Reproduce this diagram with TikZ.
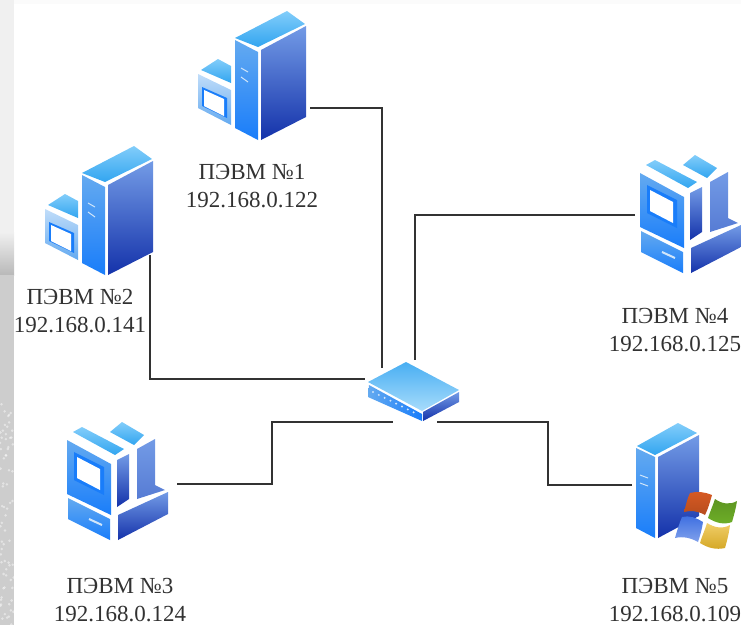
\documentclass[tikz,border=0pt]{standalone}
\usepackage{fontspec}
\setmainfont{Liberation Serif}
\definecolor{facelight}{RGB}{40, 160, 240}
\definecolor{topdark}{RGB}{50, 165, 240}
\definecolor{toplight}{RGB}{130, 205, 250}
\definecolor{sidetop}{RGB}{115, 155, 230}
\definecolor{sidebot}{RGB}{20, 50, 170}
\definecolor{frontlight}{RGB}{100, 170, 240}
\definecolor{frontdark}{RGB}{25, 125, 250}
\definecolor{wirecol}{RGB}{50, 50, 50}
\definecolor{stripcol}{RGB}{205, 205, 205}
\definecolor{flagred}{RGB}{215, 90, 35}
\definecolor{flaggreen}{RGB}{110, 175, 40}
\definecolor{flagblue}{RGB}{60, 110, 225}
\definecolor{flagyellow}{RGB}{235, 185, 40}
\tikzset{
  wire/.style={draw=wirecol,line width=1.8pt,line join=miter},
  iplabel/.style={align=center,text=wirecol,inner sep=0pt,font=\fontsize{23}{28}\selectfont},
  topface/.style={bottom color=topdark,top color=toplight},
  frontface/.style={top color=frontlight,bottom color=frontdark},
  sideface/.style={top color=sidetop,bottom color=sidebot},
  boxface/.style={top color=white!60!frontlight,bottom color=frontlight},
  screenrim/.style={fill=frontdark},
  screenglass/.style={fill=white},
  vent/.style={draw=white!70!frontlight,line width=1pt},
  % tower with a small box beside it
  towerpc/.pic={
    \shade[topface] (37,38)--(89,11)--(107,24)--(60,47)--cycle;
    \shade[frontface] (37,40)--(60,52)--(60,140)--(37,128)--cycle;
    \shade[sideface] (63,50)--(108,26)--(108,117)--(63,140)--cycle;
    \shade[topface] (3,70)--(20,59)--(33,66)--(33,83)--cycle;
    \shade[boxface] (0,74)--(33,90)--(33,125)--(0,108)--cycle;
    \fill[screenrim] (4,87)--(29,98)--(29,118)--(4,106)--cycle;
    \fill[screenglass] (6,90)--(26,99)--(26,116)--(6,106)--cycle;
    \draw[vent] (43,68)--(50,72);
    \draw[vent] (43,77)--(50,82);
  },
  % desktop with the monitor built in
  desktoppc/.pic={
    \shade[topface] (46,25)--(55,20)--(97,42)--(88,48)--cycle;
    \shade[topface] (83,25)--(95,15)--(117,28)--(107,38)--cycle;
    \shade[frontface] (40,33)--(84,57)--(84,108)--(40,87)--cycle;
    \shade[frontface] (41,91)--(83,112)--(83,133)--(41,112)--cycle;
    \fill[screenrim] (47,45)--(77,60)--(77,88)--(47,73)--cycle;
    \fill[screenglass] (50,50)--(73,62)--(73,83)--(50,71)--cycle;
    \draw[vent,line width=2pt] (62,112)--(75,118);
    \shade[sideface] (90,53)--(102,47)--(102,92)--(90,100)--cycle;
    \shade[top color=sidetop,bottom color=sidetop!70!sidebot] (110,42)--(128,32)--(128,78)--(138,83)--(110,92)--cycle;
    \shade[sideface] (91,108)--(141,85)--(141,107)--(91,133)--cycle;
  },
  % tower with the four coloured flags
  winpc/.pic={
    \shade[topface] (297,106)--(338,83)--(357,93)--(315,115)--cycle;
    \shade[frontface] (296,108)--(315,117)--(315,198)--(296,188)--cycle;
    \shade[sideface] (318,117)--(359,95)--(359,176)--(318,198)--cycle;
    \draw[vent] (300,135)--(308,138);
    \draw[vent] (300,143)--(308,146);
    \shade[top color=flagred,bottom color=flagred!85!black]
      (344,172) .. controls (346,165) and (347,159) .. (350,153)
      .. controls (357,151) and (365,152) .. (372,155)
      .. controls (370,162) and (368,169) .. (365,175)
      .. controls (358,171) and (351,170) .. (344,172);
    \shade[top color=flaggreen!85!black,bottom color=flaggreen]
      (375,159) .. controls (382,164) and (390,165) .. (397,161)
      .. controls (396,168) and (394,175) .. (392,182)
      .. controls (384,185) and (376,183) .. (368,178)
      .. controls (370,172) and (373,165) .. (375,159);
    \shade[top color=flagblue,bottom color=flagblue!65!white]
      (335,198) .. controls (337,191) and (339,184) .. (342,177)
      .. controls (349,175) and (357,178) .. (363,182)
      .. controls (362,189) and (360,196) .. (358,202)
      .. controls (351,198) and (343,196) .. (335,198);
    \shade[top color=flagyellow!70!white,bottom color=flagyellow!90!black]
      (367,183) .. controls (375,188) and (383,189) .. (390,185)
      .. controls (389,193) and (387,201) .. (385,208)
      .. controls (376,210) and (368,208) .. (360,203)
      .. controls (362,196) and (365,190) .. (367,183);
  },
  % switch with its row of lamps
  switchbox/.pic={
    \shade[top color=facelight!85!white,bottom color=toplight!70!white] (28,42)--(66,22)--(119,50)--(82,71)--cycle;
    \shade[left color=frontlight,right color=frontdark] (29,45)--(82,74)--(82,81)--(28,57)--cycle;
    \shade[sideface] (83,72)--(119,52)--(119,62)--(83,81)--cycle;
    \foreach \i in {0,...,7}{
      \fill[white!70!frontlight] (33+\i*5.8,52+\i*2.9) circle (1.1);
    }
  },
}
\newcommand{\ver}[2]{\coordinate (#1) at (#2);}

\begin{document}
\begin{tikzpicture}[x=1pt,y=-1pt]
    \useasboundingbox (0,0) rectangle (741,625);
    % strips left of and above the white sheet
    \fill[white!92!stripcol] (0,0) rectangle (741,4);
    \fill[white!70!stripcol] (0,0) rectangle (14,232);
    \shade[top color=white!70!stripcol,bottom color=stripcol!90!black] (0,232) rectangle (14,275);
    \fill[stripcol] (0,275) rectangle (14,625);
    \pgfmathsetseed{7}
    \begin{scope}
      \clip (0,275) rectangle (14,625);
      \foreach \i in {1,...,70}{
        \pgfmathsetmacro{\mx}{14*rnd}
        \pgfmathsetmacro{\my}{400+225*rnd}
        \fill[white,opacity=0.45] (\mx,\my) circle (1.4);
      }
    \end{scope}

    \pic at (198,0) {towerpc};
    \pic at (45,135) {towerpc};
    \pic at (600,140) {desktoppc};
    \pic at (27,407) {desktoppc};
    \pic at (340,340) {winpc};
    \pic at (340,340) {switchbox};

    \node[iplabel] (l1) at (252,186) {ПЭВМ №1\\192.168.0.122};
    \node[iplabel] (l2) at (80,311) {ПЭВМ №2\\192.168.0.141};
    \node[iplabel] (l3) at (120,600) {ПЭВМ №3\\192.168.0.124};
    \node[iplabel] (l4) at (675,330) {ПЭВМ №4\\192.168.0.125};
    \node[iplabel] (l5) at (675,600) {ПЭВМ №5\\192.168.0.109};

    \ver{p1}{310,108};
    \ver{p2}{150,255};
    \ver{p3}{177,484};
    \ver{p4}{635,215};
    \ver{p5}{632,485};
    \ver{s1}{382,368};
    \ver{s2}{365,379};
    \ver{s3}{393,422};
    \ver{s4}{415,360};
    \ver{s5}{437,422};
    \ver{k3}{272,422};
    \ver{k5}{548,422};

    \draw[wire] (p1) -| (s1);
    \draw[wire] (p2) |- (s2);
    \draw[wire] (p3) -| (k3) -- (s3);
    \draw[wire] (p4) -| (s4);
    \draw[wire] (p5) -| (k5) -- (s5);
\end{tikzpicture}
\end{document}
